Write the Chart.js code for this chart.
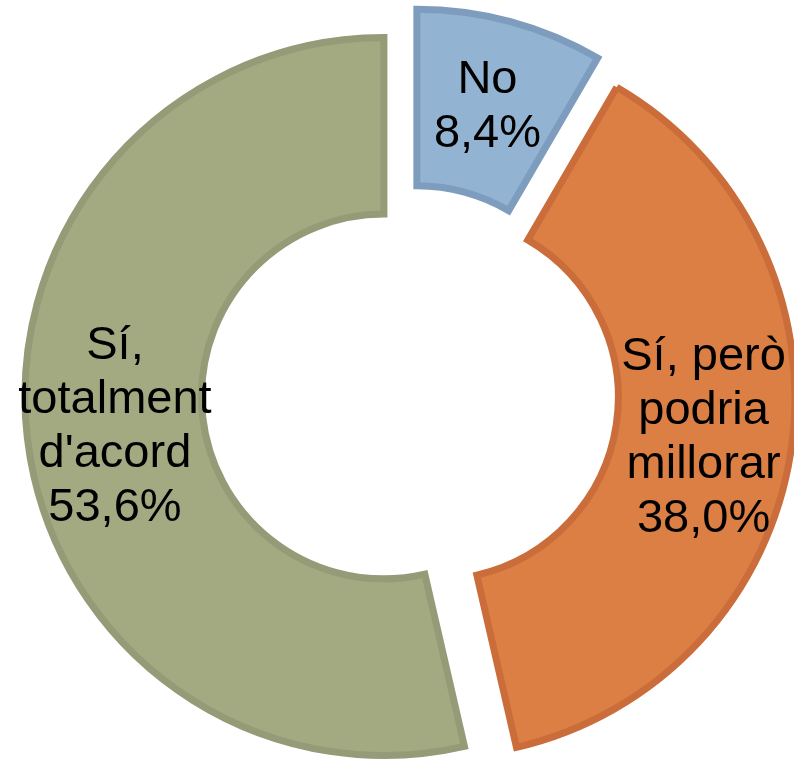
<!DOCTYPE html>
<html>
<head>
<meta charset="utf-8">
<script src="https://cdn.jsdelivr.net/npm/chart.js@4/dist/chart.umd.min.js"></script>
<style>
  html, body { margin: 0; padding: 0; background: #fff; }
  #wrap { width: 794px; height: 761px; }
</style>
</head>
<body>
<div id="wrap"><canvas id="donut" width="794" height="761"></canvas></div>
<script>
// categories, shares and colours of the doughnut
const categories = ['No', 'Sí, però podria millorar', "Sí, totalment d'acord"];
const categoryLines = [['No'], ['Sí, però', 'podria', 'millorar'], ['Sí,', 'totalment', "d'acord"]];
const shares = [8.4, 38.0, 53.6];
const fillColors = ['#93B3D3', '#DC7F45', '#A3AA82'];
const edgeColors = ['#7E9DBE', '#CA6D3A', '#959B76'];

const LABEL_FONT = '47px "Liberation Sans", Arial, sans-serif';
const LINE_HEIGHT = 54;

const fmtPct = v => v.toFixed(1).replace('.', ',') + '%';

// Chart.js grows exploded arcs by offset/4 * (1 - sin(circ)) and trims their angle;
// undo that so every slice keeps the same radii and its true angles
const explodeFix = {
    id: 'explodeFix',
    afterDatasetUpdate(chart, args) {
        args.meta.data.forEach(arc => {
            const off = (arc.options.offset || 0) / 4;
            const rOff = off * (1 - Math.sin(Math.min(Math.PI, arc.circumference)));
            if (!rOff) return;
            arc.outerRadius -= rOff;
            arc.innerRadius -= rOff;
            const a = rOff / Math.PI / (arc.outerRadius + rOff) / 2;
            arc.startAngle -= a;
            arc.endAngle += a;
        });
    }
};

// category name + percentage in the middle of each slice
const sliceLabels = {
    id: 'sliceLabels',
    afterDatasetsDraw(chart) {
        const meta = chart.getDatasetMeta(0);
        const ctrl = meta.controller;
        const midR = (ctrl.outerRadius + ctrl.innerRadius) / 2;
        const ctx = chart.ctx;
        ctx.save();
        ctx.font = LABEL_FONT;
        ctx.fillStyle = '#000';
        ctx.textAlign = 'center';
        ctx.textBaseline = 'middle';
        meta.data.forEach((arc, i) => {
            const half = (arc.startAngle + arc.endAngle) / 2;
            const shift = (arc.options.offset || 0) / 4 + midR;
            const cx = arc.x + Math.cos(half) * shift;
            const cy = arc.y + Math.sin(half) * shift;
            const lines = categoryLines[i].concat(fmtPct(shares[i]));
            const top = cy - (lines.length - 1) * LINE_HEIGHT / 2;
            lines.forEach((txt, k) => ctx.fillText(txt, cx, top + k * LINE_HEIGHT));
        });
        ctx.restore();
    }
};

new Chart(document.getElementById('donut'), {
    type: 'doughnut',
    data: {
        labels: categories,
        datasets: [{
            data: shares,
            backgroundColor: fillColors,
            borderColor: edgeColors,
            borderWidth: 7,
            borderJoinStyle: 'miter',
            offset: 105
        }]
    },
    options: {
        responsive: false,
        animation: false,
        devicePixelRatio: 1,
        radius: 359,
        cutout: '50.8%',
        layout: { padding: { left: 26, top: 26 } },
        plugins: { legend: { display: false }, tooltip: { enabled: false } }
    },
    plugins: [explodeFix, sliceLabels]
});
</script>
</body>
</html>
